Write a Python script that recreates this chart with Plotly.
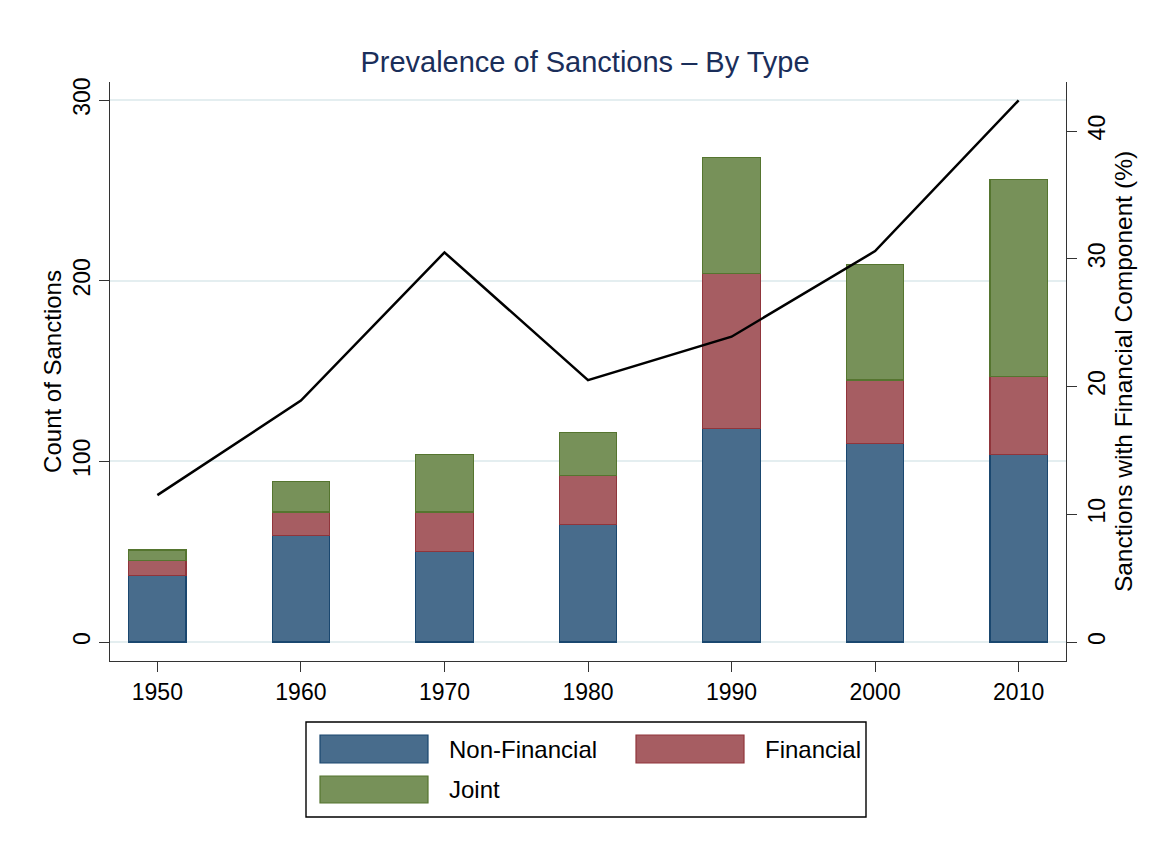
import plotly.graph_objects as go

# ---- data ----
years = [1950, 1960, 1970, 1980, 1990, 2000, 2010]
non_financial = [37, 59, 50, 65, 118, 110, 104]
financial = [8, 13, 22, 27, 86, 35, 43]
joint = [6, 17, 32, 24, 64, 64, 109]
pct_financial = [11.5, 18.9, 30.5, 20.5, 23.9, 30.6, 42.4]
series_names = ["Non-Financial", "Financial", "Joint"]

fills = ["rgb(72,108,140)", "rgb(166,93,98)", "rgb(119,145,89)"]
edges = ["rgb(26,71,111)", "rgb(144,53,59)", "rgb(85,117,47)"]

FONT = "Liberation Sans, Arial, sans-serif"
AX = "#333333"

W, H = 1154, 849
# plot area in figure pixel coordinates
L, R, T, B = 102, 1058, 74, 653

fig = go.Figure()
for name, vals, fc, ec in zip(series_names, [non_financial, financial, joint], fills, edges):
    fig.add_trace(go.Bar(x=years, y=vals, name=name, width=4,
                         marker=dict(color=fc, line=dict(color=ec, width=1.2)),
                         showlegend=False))

fig.add_trace(go.Scatter(x=years, y=pct_financial, mode="lines", yaxis="y2",
                         line=dict(color="black", width=2.5), showlegend=False,
                         name="Sanctions with Financial Component (%)"))

fig.update_layout(
    width=W, height=H,
    barmode="stack",
    plot_bgcolor="white", paper_bgcolor="white",
    margin=dict(l=L, r=W - R, t=T, b=H - B, autoexpand=False),
    font=dict(family=FONT, size=23, color="black"),
    title=dict(text="Prevalence of Sanctions \u2013 By Type", x=0.5, xanchor="center",
               y=1 - 54 / H, yanchor="middle",
               font=dict(family=FONT, size=29, color="#1a2e5a")),
    xaxis=dict(range=[1946.7, 2013.3], tickvals=years, ticktext=[str(y) for y in years],
               showline=True, linecolor=AX, linewidth=1.4, ticks="outside", ticklen=10,
               tickwidth=1.4, tickcolor=AX, showgrid=False, zeroline=False,
               tickfont=dict(size=23)),
    yaxis=dict(range=[-10.5, 310], tickvals=[0, 100, 200, 300], tickangle=-90,
               showline=True, linecolor=AX, linewidth=1.4, ticks="outside", ticklen=10,
               tickwidth=1.4, tickcolor=AX, showgrid=True, gridcolor="#e4eef0",
               gridwidth=1.6, zeroline=False, tickfont=dict(size=23),
               title=dict(text="Count of Sanctions", standoff=0, font=dict(size=24))),
    yaxis2=dict(range=[-1.487, 43.84], tickvals=[0, 10, 20, 30, 40], tickangle=-90,
                overlaying="y", side="right",
                showline=True, linecolor=AX, linewidth=1.4, ticks="outside", ticklen=10,
                tickwidth=1.4, tickcolor=AX, showgrid=False, zeroline=False,
                tickfont=dict(size=23),
                title=dict(text="Sanctions with Financial Component (%)", standoff=4,
                           font=dict(size=24.5))),
)

# ---- custom legend (wide swatches, Stata style); positions given in screen px ----
OFF = 8  # page offset of the figure in the browser
def px(x):
    return (x - OFF - L) / (R - L)
def py(y):
    return (B - (y - OFF)) / (B - T)

fig.add_shape(type="rect", xref="paper", yref="paper",
              x0=px(306), x1=px(866), y0=py(722), y1=py(817),
              line=dict(color="black", width=1.4), fillcolor="white", layer="above")

legend_items = [
    (0, 320, 428, 735, 763, 447),
    (1, 636, 744, 735, 763, 763),
    (2, 320, 428, 776, 803, 447),
]
for idx, x0, x1, y0, y1, tx in legend_items:
    fig.add_shape(type="rect", xref="paper", yref="paper",
                  x0=px(x0), x1=px(x1), y0=py(y0), y1=py(y1),
                  fillcolor=fills[idx], line=dict(color=edges[idx], width=1.2), layer="above")
    fig.add_annotation(xref="paper", yref="paper", x=px(tx), y=py((y0 + y1) / 2),
                       text=series_names[idx], showarrow=False, xanchor="left",
                       yanchor="middle", font=dict(family=FONT, size=24, color="black"))

fig.write_html("out.html")
